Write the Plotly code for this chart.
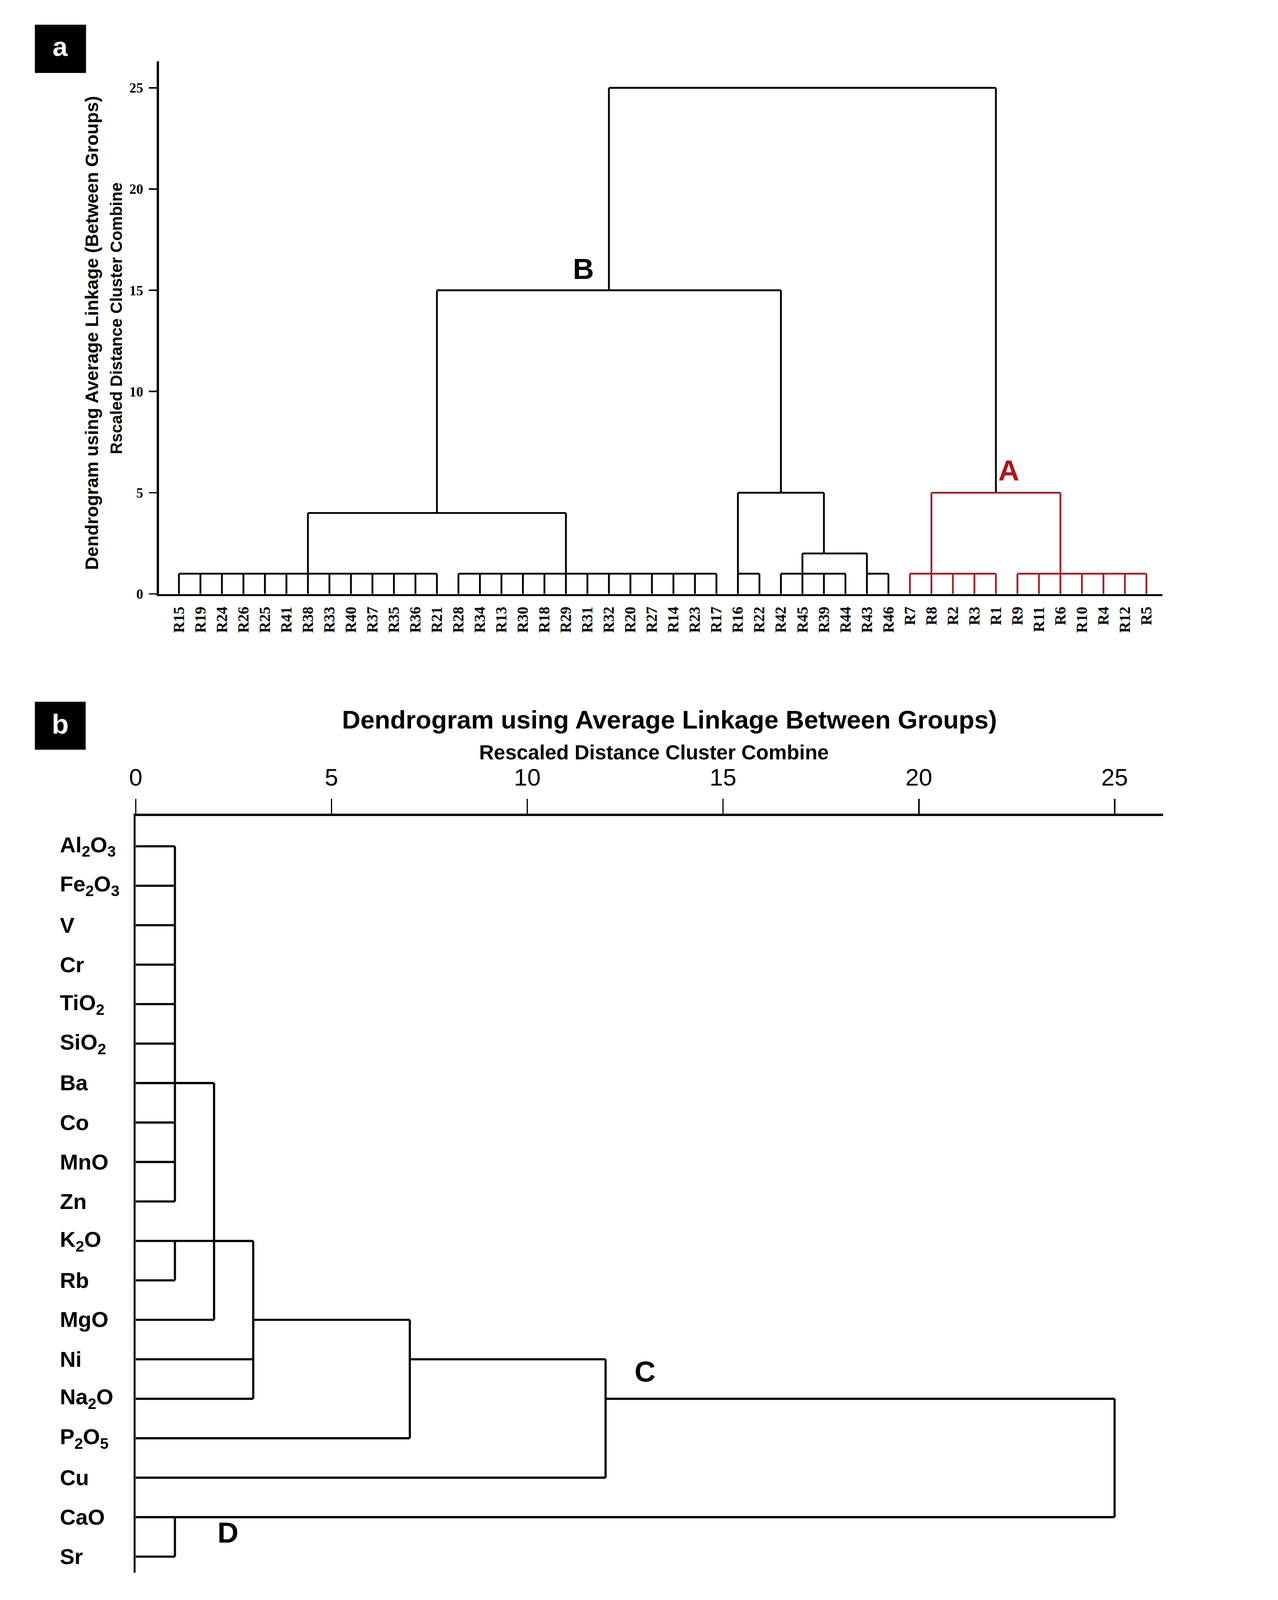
import plotly.graph_objects as go

W, H = 3271, 4386

# ---------------- Panel a data (samples, vertical dendrogram) ----------------
leaves_a = ["R15", "R19", "R24", "R26", "R25", "R41", "R38", "R33", "R40", "R37", "R35", "R36", "R21",
            "R28", "R34", "R13", "R30", "R18", "R29", "R31", "R32", "R20", "R27", "R14", "R23", "R17",
            "R16", "R22", "R42", "R45", "R39", "R44", "R43", "R46",
            "R7", "R8", "R2", "R3", "R1", "R9", "R11", "R6", "R10", "R4", "R12", "R5"]
clusters_a = ["G1", "G2", "G3", "G4", "G5", "G6", "G7", "M1", "M2", "M3", "M4", "M5", "M6"]
children_a = [
    ["R15", "R19", "R24", "R26", "R25", "R41", "R38", "R33", "R40", "R37", "R35", "R36", "R21"],
    ["R28", "R34", "R13", "R30", "R18", "R29", "R31", "R32", "R20", "R27", "R14", "R23", "R17"],
    ["R16", "R22"],
    ["R42", "R45", "R39", "R44"],
    ["R43", "R46"],
    ["R7", "R8", "R2", "R3", "R1"],
    ["R9", "R11", "R6", "R10", "R4", "R12", "R5"],
    ["G1", "G2"],
    ["G4", "G5"],
    ["G3", "M2"],
    ["M1", "M3"],
    ["G6", "G7"],
    ["M4", "M5"],
]
heights_a = [1, 1, 1, 1, 1, 1, 1, 4, 2, 5, 15, 5, 25]
stems_a = ["R38", "R29", "R16", "R45", "R43", "R8", "R6", "R21", "R39", "R42", "R32", "R1", None]
groups_a = ["B", "B", "B", "B", "B", "A", "A", "B", "B", "B", "B", "A", "root"]
yticks_a = [0, 5, 10, 15, 20, 25]

# ---------------- Panel b data (variables, horizontal dendrogram) ----------------
vars_b = ["Al2O3", "Fe2O3", "V", "Cr", "TiO2", "SiO2", "Ba", "Co", "MnO", "Zn",
          "K2O", "Rb", "MgO", "Ni", "Na2O", "P2O5", "Cu", "CaO", "Sr"]
labels_b = ["Al<sub>2</sub>O<sub>3</sub>", "Fe<sub>2</sub>O<sub>3</sub>", "V", "Cr", "TiO<sub>2</sub>",
            "SiO<sub>2</sub>", "Ba", "Co", "MnO", "Zn", "K<sub>2</sub>O", "Rb", "MgO", "Ni",
            "Na<sub>2</sub>O", "P<sub>2</sub>O<sub>5</sub>", "Cu", "CaO", "Sr"]
clusters_b = ["c1", "c2", "c3", "m1", "m2", "m3", "m4", "m5"]
children_b = [
    ["Al2O3", "Fe2O3", "V", "Cr", "TiO2", "SiO2", "Ba", "Co", "MnO", "Zn"],
    ["K2O", "Rb"],
    ["CaO", "Sr"],
    ["c1", "MgO"],
    ["c2", "m1", "Ni", "Na2O"],
    ["m2", "P2O5"],
    ["m3", "Cu"],
    ["m4", "c3"],
]
heights_b = [1, 1, 1, 2, 3, 7, 12, 25]
stems_b = ["Ba", "K2O", "CaO", "K2O", "MgO", "Ni", "Na2O", None]
xticks_b = [0, 5, 10, 15, 20, 25]

RED = "#a3212a"
BLACK = "#000000"


def px_x(p):
    return p / W


def px_y(p):
    return 1 - p / H


# ---- build panel a segments ----
pos = {n: i for i, n in enumerate(leaves_a)}
hgt = {n: 0 for n in leaves_a}
seg_a = {"black": ([], []), "red": ([], [])}
for name, ch, h, st, g in zip(clusters_a, children_a, heights_a, stems_a, groups_a):
    key = "red" if g == "A" else "black"
    xs, ys = seg_a[key]
    cx = [pos[c] for c in ch]
    for c in ch:
        xs += [pos[c], pos[c], None]
        ys += [hgt[c], h, None]
    xs += [min(cx), max(cx), None]
    ys += [h, h, None]
    if st is not None:
        pos[name] = leaves_a.index(st)
    hgt[name] = h

# ---- build panel b segments ----
row = {n: i for i, n in enumerate(vars_b)}
val = {n: 0 for n in vars_b}
xb, yb = [], []
for name, ch, h, st in zip(clusters_b, children_b, heights_b, stems_b):
    rows = [row[c] for c in ch]
    for c in ch:
        xb += [val[c], h, None]
        yb += [row[c], row[c], None]
    xb += [h, h, None]
    yb += [min(rows), max(rows), None]
    if st is not None:
        row[name] = vars_b.index(st)
    val[name] = h

fig = go.Figure()
fig.add_trace(go.Scatter(x=seg_a["black"][0], y=seg_a["black"][1], mode="lines",
                         line=dict(color=BLACK, width=5), xaxis="x", yaxis="y",
                         hoverinfo="skip", cliponaxis=False))
fig.add_trace(go.Scatter(x=seg_a["red"][0], y=seg_a["red"][1], mode="lines",
                         line=dict(color=RED, width=5), xaxis="x", yaxis="y",
                         hoverinfo="skip", cliponaxis=False))
fig.add_trace(go.Scatter(x=xb, y=yb, mode="lines",
                         line=dict(color=BLACK, width=6), xaxis="x2", yaxis="y2",
                         hoverinfo="skip", cliponaxis=False))

# Panel a axes geometry (pixels)
a_left, a_right, a_top, a_bottom = 420, 3185, 169, 1636
a_x0, a_dx = 475, 59.25     # leaf 0 position and leaf spacing
a_dy = (a_bottom - 242) / 25.0

# Panel b axes geometry
b_left, b_right, b_top, b_bottom = 356, 3187, 2248, 4332
b_dx = 107.9
b_y0, b_dy = 2331, 108.7

serif = "Liberation Serif"
sans = "Liberation Sans"

fig.update_layout(
    width=W, height=H, margin=dict(l=0, r=0, t=0, b=0),
    paper_bgcolor="white", plot_bgcolor="white", showlegend=False,
    xaxis=dict(domain=[px_x(a_left), px_x(a_right)],
               range=[(a_left - a_x0) / a_dx, (a_right - a_x0) / a_dx],
               anchor="y", showgrid=False, zeroline=False,
               showline=True, linecolor="black", linewidth=5.5,
               tickmode="array", tickvals=list(range(len(leaves_a))), ticktext=leaves_a,
               tickangle=-90, ticks="", ticklabelstandoff=12,
               tickfont=dict(family=serif, size=42, color="black", weight="bold")),
    yaxis=dict(domain=[px_y(a_bottom), px_y(a_top)],
               range=[0, (a_bottom - a_top) / a_dy],
               anchor="x", showgrid=False, zeroline=False,
               showline=True, linecolor="black", linewidth=5.5,
               tickmode="array", tickvals=yticks_a, ticktext=[str(v) for v in yticks_a],
               ticks="outside", ticklen=22, tickwidth=4, tickcolor="black",
               ticklabelstandoff=8,
               tickfont=dict(family=serif, size=38, color="black", weight="bold")),
    xaxis2=dict(domain=[px_x(b_left), px_x(b_right)],
                range=[0, (b_right - b_left) / b_dx],
                anchor="y2", side="top", showgrid=False, zeroline=False,
                showline=True, linecolor="black", linewidth=7,
                tickmode="array", tickvals=xticks_b, ticktext=[str(v) for v in xticks_b],
                ticks="outside", ticklen=40, tickwidth=4, tickcolor="black",
                ticklabelstandoff=10,
                tickfont=dict(family=sans, size=66, color="black")),
    yaxis2=dict(domain=[px_y(b_bottom), px_y(b_top)],
                range=[(b_bottom - b_y0) / b_dy, (b_top - b_y0) / b_dy],
                anchor="x2", showgrid=False, zeroline=False,
                showline=True, linecolor="black", linewidth=6,
                showticklabels=False, ticks=""),
)


def note(text, x, y, size, color="black", angle=0, xanchor="center", yref="paper", weight="bold"):
    return dict(text=text, x=x, y=y, xref="paper", yref=yref, showarrow=False,
                xanchor=xanchor, yanchor="middle", textangle=angle,
                font=dict(family=sans, size=size, color=color, weight=weight))


ann = []
shapes = [
    dict(type="rect", xref="paper", yref="paper", x0=px_x(78), x1=px_x(219), y0=px_y(201), y1=px_y(68),
         fillcolor="black", line=dict(width=0)),
    dict(type="rect", xref="paper", yref="paper", x0=px_x(78), x1=px_x(218), y0=px_y(2065), y1=px_y(1933),
         fillcolor="black", line=dict(width=0)),
]
ann.append(note("a", px_x(148), px_y(128), 74, color="white"))
ann.append(note("b", px_x(148), px_y(1994), 76, color="white"))

# panel a axis titles
ann.append(note("Dendrogram using Average Linkage (Between Groups)", px_x(235), px_y(917), 50, angle=-90))
ann.append(note("Rscaled Distance Cluster Combine", px_x(303), px_y(877), 45, angle=-90))
# cluster labels panel a
ann.append(note("B", px_x(1590), px_y(741), 80))
ann.append(note("A", px_x(2762), px_y(1296), 80, color="#b3121c"))

# panel b titles
ann.append(note("Dendrogram using Average Linkage Between Groups)", px_x(1827), px_y(1982), 70))
ann.append(note("Rescaled Distance Cluster Combine", px_x(1784), px_y(2072), 56))
# variable labels panel b
for i, lab in enumerate(labels_b):
    ann.append(note(lab, px_x(145), i, 60, xanchor="left", yref="y2"))
ann.append(note("C", px_x(1760), px_y(3778), 80))
ann.append(note("D", px_x(610), px_y(4222), 80))

fig.update_layout(annotations=ann, shapes=shapes)

fit_js = """
var gd = document.getElementById('{plot_id}');
document.documentElement.style.margin = '0';
document.documentElement.style.overflow = 'hidden';
document.body.style.margin = '0';
document.body.style.padding = '0';
document.body.style.overflow = 'hidden';
var s = Math.min(window.innerWidth / %d, window.innerHeight / %d);
if (s < 1) {
  gd.style.transformOrigin = '0 0';
  gd.style.transform = 'scale(' + s + ')';
}
""" % (W, H)

fig.write_html("out.html", post_script=fit_js, config={"displayModeBar": False})
